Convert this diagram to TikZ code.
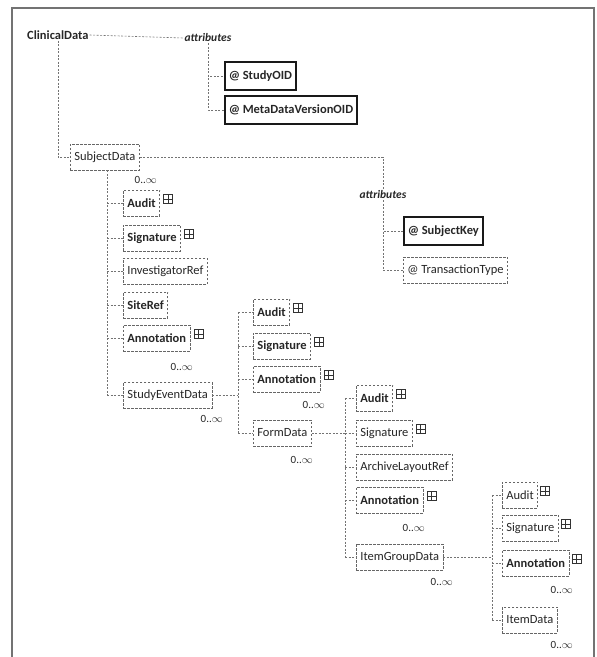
\documentclass[tikz,border=0pt]{standalone}
\usepackage{fontspec}
\setmainfont{Carlito}
\begin{document}
\begin{tikzpicture}[x=1pt,y=-1pt,
  every node/.style={text=black!85},
  el/.style={draw=black!60, dash pattern=on 2.5pt off 1.5pt, line width=0.7pt, anchor=west, inner xsep=4pt, inner ysep=0pt, minimum height=26pt, font=\fontsize{12.5}{14}\selectfont},
  elb/.style={el, font=\fontsize{12.5}{14}\selectfont\bfseries},
  req/.style={draw=black!90, line width=1.5pt, anchor=west, inner xsep=4pt, inner ysep=0pt, minimum height=28pt, font=\fontsize{12.5}{14}\selectfont\bfseries},
  conn/.style={draw=black!55, line width=0.6pt, dash pattern=on 2pt off 1.5pt},
  mult/.style={anchor=east, font=\fontsize{11}{12}\selectfont, inner sep=1pt},
  attl/.style={font=\fontsize{11.5}{13}\selectfont\bfseries\itshape, inner sep=1pt},
  xp/.style={draw=black!80, line width=0.7pt, minimum size=9pt, inner sep=0pt,
    path picture={\draw[black!80, line width=0.7pt] (path picture bounding box.north) -- (path picture bounding box.south) (path picture bounding box.west) -- (path picture bounding box.east);}},
]
\useasboundingbox (0,0) rectangle (597,657);
\draw[black!55, line width=1.3pt] (12,657) -- (12,8) -- (594,8) -- (594,657);

% ClinicalData and its attributes
\node[anchor=west, font=\fontsize{12.5}{14}\selectfont\bfseries, inner sep=1pt] (cd) at (26,35) {ClinicalData};
\node[attl] (cda) at (208,38) {attributes};
\node[req] (soid) at (224,76) {@ StudyOID};
\node[req] (mdv) at (224,110) {@ MetaDataVersionOID};
\draw[conn] (cd.east) -- (cda.west);
\draw[conn] (cda.south) |- (soid.west);
\draw[conn] (cda.south) |- (mdv.west);

% SubjectData
\node[el] (sd) at (70,157) {SubjectData};
\draw[conn] (cd.south) |- (sd.west);
\node[mult] (msd) at (158,180) {0..$\infty$};

\node[attl] (sda) at (383,195) {attributes};
\node[req] (sk) at (403,231) {@ SubjectKey};
\node[el] (tt) at (403,270) {@ TransactionType};
\draw[conn] (sd.east) -| (sda.north);
\draw[conn] (sda.south) |- (sk.west);
\draw[conn] (sda.south) |- (tt.west);

% column 1
\coordinate (sp1) at (107,0);
\node[elb] (a1) at (123,203) {Audit};
\node[elb] (s1) at (123,238) {Signature};
\node[el] (ir) at (123,271) {InvestigatorRef};
\node[elb] (sr) at (123,305) {SiteRef};
\node[elb] (an1) at (123,338) {Annotation};
\node[mult] (man1) at (194,367) {0..$\infty$};
\node[el] (sed) at (123,395) {StudyEventData};
\node[mult] (msed) at (224,419) {0..$\infty$};
\draw[conn] (sp1 |- sd.south) -- (sp1 |- sed.west);
\foreach \n in {a1,s1,ir,sr,an1,sed} \draw[conn] (sp1 |- \n.west) -- (\n.west);
\node[xp] (xa1) at ([xshift=8pt,yshift=4pt]a1.east) {};
\node[xp] (xs1) at ([xshift=8pt,yshift=4pt]s1.east) {};
\node[xp] (xan1) at ([xshift=8pt,yshift=4pt]an1.east) {};

% column 2
\coordinate (sp2) at (238,0);
\node[elb] (a2) at (253,312) {Audit};
\node[elb] (s2) at (253,346) {Signature};
\node[elb] (an2) at (253,379) {Annotation};
\node[mult] (man2) at (326,405) {0..$\infty$};
\node[el] (fd) at (253,433) {FormData};
\node[mult] (mfd) at (314,460) {0..$\infty$};
\draw[conn] (sed.east) -- (sp2 |- sed.east);
\draw[conn] (sp2 |- a2.west) -- (sp2 |- fd.west);
\foreach \n in {a2,s2,an2,fd} \draw[conn] (sp2 |- \n.west) -- (\n.west);
\node[xp] (xa2) at ([xshift=8pt,yshift=4pt]a2.east) {};
\node[xp] (xs2) at ([xshift=8pt,yshift=4pt]s2.east) {};
\node[xp] (xan2) at ([xshift=8pt,yshift=4pt]an2.east) {};

% column 3
\coordinate (sp3) at (345,0);
\node[elb] (a3) at (356,398) {Audit};
\node[el] (s3) at (356,433) {Signature};
\node[el] (alr) at (356,467) {ArchiveLayoutRef};
\node[elb] (an3) at (356,500) {Annotation};
\node[mult] (man3) at (426,528) {0..$\infty$};
\node[el] (igd) at (356,557) {ItemGroupData};
\node[mult] (migd) at (454,582) {0..$\infty$};
\draw[conn] (fd.east) -- (sp3 |- fd.east);
\draw[conn] (sp3 |- a3.west) -- (sp3 |- igd.west);
\foreach \n in {a3,s3,alr,an3,igd} \draw[conn] (sp3 |- \n.west) -- (\n.west);
\node[xp] (xa3) at ([xshift=8pt,yshift=4pt]a3.east) {};
\node[xp] (xs3) at ([xshift=8pt,yshift=4pt]s3.east) {};
\node[xp] (xan3) at ([xshift=8pt,yshift=4pt]an3.east) {};

% column 4
\coordinate (sp4) at (492,0);
\node[el] (a4) at (502,495) {Audit};
\node[el] (s4) at (502,528) {Signature};
\node[elb] (an4) at (502,563) {Annotation};
\node[mult] (man4) at (574,590) {0..$\infty$};
\node[el] (itd) at (502,620) {ItemData};
\node[mult] (mitd) at (574,645) {0..$\infty$};
\draw[conn] (igd.east) -- (sp4 |- igd.east);
\draw[conn] (sp4 |- a4.west) -- (sp4 |- itd.west);
\foreach \n in {a4,s4,an4,itd} \draw[conn] (sp4 |- \n.west) -- (\n.west);
\node[xp] (xa4) at ([xshift=7pt,yshift=4pt]a4.east) {};
\node[xp] (xs4) at ([xshift=7pt,yshift=4pt]s4.east) {};
\node[xp] (xan4) at ([xshift=7pt,yshift=4pt]an4.east) {};
\end{tikzpicture}
\end{document}
